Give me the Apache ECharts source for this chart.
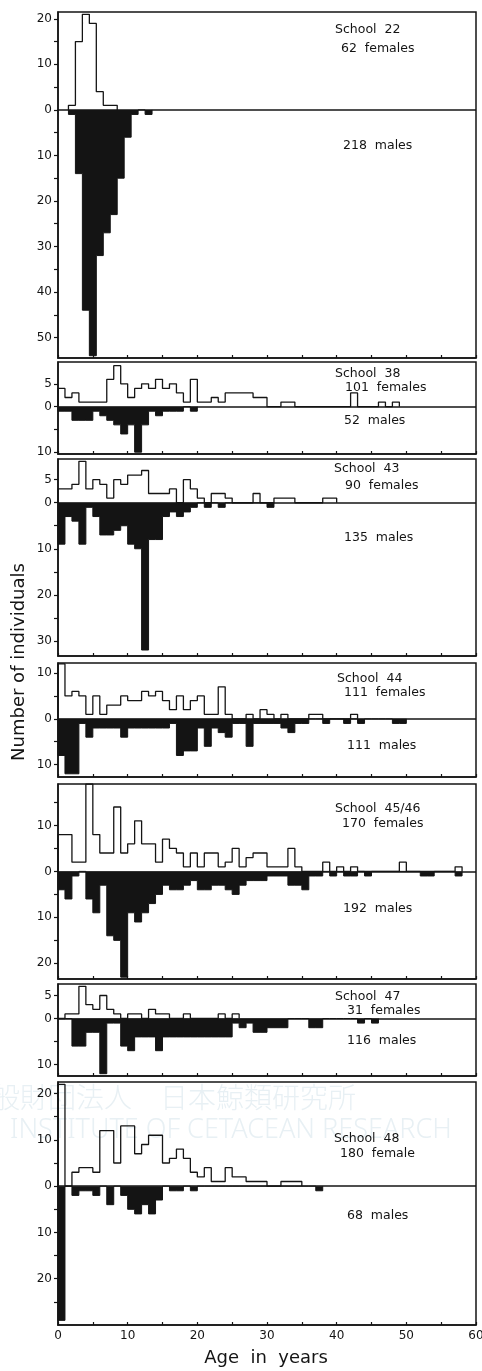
<!DOCTYPE html>
<html>
<head>
<meta charset="utf-8">
<title>Age composition of schools</title>
<script src="https://cdn.jsdelivr.net/npm/echarts@6.0.0/dist/echarts.min.js"></script>
<style>
  html, body { margin: 0; padding: 0; background: #fff; }
  #chart { width: 482px; height: 1371px; }
</style>
</head>
<body>
<div id="chart"></div>
<script>
// one-year age classes, counts listed from the first class of each school
const schoolNames = ['School  22', 'School  38', 'School  43', 'School  44', 'School  45/46', 'School  47', 'School  48']
const femaleLabels = ['62  females', '101  females', '90  females', '111  females', '170  females', '31  females', '180  female']
const maleLabels = ['218  males', '52  males', '135  males', '111  males', '192  males', '116  males', '68  males']
const firstAge = [1.5, 0, 0, 0, 0, 0, 0]

const females22 = [1, 15, 21, 19, 4, 1, 1]
const males22 = [1, 14, 44, 54, 32, 27, 23, 15, 6, 1, 0, 1]

const females38 = [4, 2, 3, 1, 1, 1, 1, 6, 9, 5, 2, 4, 5, 4, 6, 4, 5, 3, 1, 6, 1, 1, 2, 1, 3, 3, 3, 3, 2, 2, 0, 0, 1, 1, 0, 0, 0, 0, 0, 0, 0, 0, 3, 0, 0, 0, 1, 0, 1]
const males38 = [1, 1, 3, 3, 3, 1, 2, 3, 4, 6, 4, 10, 4, 1, 2, 1, 1, 1, 0, 1]

const females43 = [3, 3, 4, 9, 3, 5, 4, 1, 5, 4, 6, 6, 7, 2, 2, 2, 3, 0, 5, 3, 1, 0, 2, 2, 1, 0, 0, 0, 2, 0, 0, 1, 1, 1, 0, 0, 0, 0, 1, 1]
const males43 = [9, 3, 4, 9, 1, 3, 7, 7, 6, 5, 9, 10, 32, 8, 8, 3, 2, 3, 2, 1, 0, 1, 0, 1, 0, 0, 0, 0, 0, 0, 1]

const females44 = [12, 5, 6, 5, 1, 5, 1, 3, 3, 5, 4, 4, 6, 5, 6, 4, 2, 5, 2, 4, 5, 1, 1, 7, 1, 0, 0, 1, 0, 2, 1, 0, 1, 0, 0, 0, 1, 1, 0, 0, 0, 0, 1]
const males44 = [8, 12, 12, 1, 4, 2, 2, 2, 2, 4, 2, 2, 2, 2, 2, 2, 1, 8, 7, 7, 2, 6, 2, 3, 4, 1, 1, 6, 1, 1, 1, 1, 2, 3, 1, 1, 0, 0, 1, 0, 0, 1, 0, 1, 0, 0, 0, 0, 1, 1]

const females4546 = [8, 8, 2, 2, 19, 8, 4, 4, 14, 4, 6, 11, 6, 6, 2, 7, 5, 4, 1, 4, 1, 4, 4, 1, 2, 5, 1, 3, 4, 4, 1, 1, 1, 5, 1, 0, 0, 0, 2, 0, 1, 0, 1, 0, 0, 0, 0, 0, 0, 2, 0, 0, 0, 0, 0, 0, 0, 1]
const males4546 = [4, 6, 1, 0, 6, 9, 3, 14, 15, 23, 9, 11, 9, 7, 5, 3, 4, 4, 3, 2, 4, 4, 3, 3, 4, 5, 3, 2, 2, 2, 1, 1, 1, 3, 3, 4, 1, 1, 0, 1, 0, 1, 1, 0, 1, 0, 0, 0, 0, 0, 0, 0, 1, 1, 0, 0, 0, 1]

const females47 = [0, 1, 1, 7, 3, 2, 5, 2, 1, 0, 1, 1, 0, 2, 1, 1, 0, 0, 1, 0, 0, 0, 0, 1, 0, 1]
const males47 = [0, 0, 6, 6, 3, 3, 12, 1, 1, 6, 7, 4, 4, 4, 7, 4, 4, 4, 4, 4, 4, 4, 4, 4, 4, 1, 2, 1, 3, 3, 2, 2, 2, 0, 0, 0, 2, 2, 0, 0, 0, 0, 0, 1, 0, 1]

const females48 = [22, 0, 3, 4, 4, 3, 12, 12, 5, 13, 13, 7, 9, 11, 11, 5, 6, 8, 6, 3, 2, 4, 1, 1, 4, 2, 2, 1, 1, 1, 0, 0, 1, 1, 1]
const males48 = [29, 0, 2, 1, 1, 2, 0, 4, 0, 2, 5, 6, 4, 6, 3, 0, 1, 1, 0, 1, 0, 0, 0, 0, 0, 0, 0, 0, 0, 0, 0, 0, 0, 0, 0, 0, 0, 1]

const femaleCounts = [females22, females38, females43, females44, females4546, females47, females48]
const maleCounts = [males22, males38, males43, males44, males4546, males47, males48]

const ageTicks = [0, 5, 10, 15, 20, 25, 30, 35, 40, 45, 50, 55, 60]
const ageLabels = [0, 10, 20, 30, 40, 50, 60]

// panel layout (pixels) and value axes
const panelTop = [12, 362, 459, 663, 784, 984, 1082]
const panelBottom = [358, 454, 656, 777, 979, 1076, 1325]
const yMin = [-54.5, -10.4, -33.3, -12.7, -23.4, -12.5, -30]
const yMax = [21.5, 9.8, 9.5, 12.2, 19, 7.5, 22.5]
const yTicks = [
  [20, 15, 10, 5, 0, -5, -10, -15, -20, -25, -30, -35, -40, -45, -50],
  [5, 0, -5, -10],
  [5, 0, -5, -10, -15, -20, -25, -30],
  [10, 5, 0, -5, -10],
  [15, 10, 5, 0, -5, -10, -15, -20],
  [5, 0, -5, -10],
  [20, 15, 10, 5, 0, -5, -10, -15, -20, -25]
]
const yLabels = [
  [20, 10, 0, -10, -20, -30, -40, -50],
  [5, 0, -10],
  [5, 0, -10, -20, -30],
  [10, 0, -10],
  [10, 0, -10, -20],
  [5, 0, -10],
  [20, 10, 0, -10, -20]
]
// text anchor points: [schoolX, schoolY, femaleX, femaleY, maleX, maleY]
const textPos = [
  [335, 30, 341, 49, 343, 146],
  [335, 374, 345, 388, 344, 421],
  [334, 469, 345, 486, 344, 538],
  [337, 679, 344, 693, 347, 746],
  [335, 809, 342, 824, 343, 909],
  [335, 997, 347, 1011, 347, 1041],
  [334, 1139, 340, 1154, 347, 1216]
]

// faint scanner watermark of the source page
const markJa = '一般財団法人　日本鯨類研究所'
const markEn = 'INSTITUTE OF CETACEAN RESEARCH'

const ink = '#141414'
const H = 1371

function steps (start, counts, sign) {
  const pts = [[start, 0]]
  counts.forEach((c, i) => pts.push([start + i, sign * c]))
  pts.push([start + counts.length, 0])
  return pts
}

const grid = []
const xAxis = []
const yAxis = []
const series = []
const graphic = []

graphic.push({
  type: 'text', x: -36, y: 1097, z: -10, silent: true,
  style: {text: markJa, font: '300 28px "Noto Sans CJK JP"', fill: '#e8f0f4', verticalAlign: 'middle'}
})
graphic.push({
  type: 'text', x: 10, y: 1130, z: -10, silent: true,
  style: {text: markEn, font: '300 27px "Noto Sans"', fill: '#e8f0f4', verticalAlign: 'middle'}
})

for (let i = 0; i < 7; i++) {
  const last = i === 6
  grid.push({
    left: 58, right: 6, top: panelTop[i], bottom: H - panelBottom[i],
    containLabel: false, outerBoundsMode: 'none',
    show: true, borderColor: ink, borderWidth: 1.5, backgroundColor: 'transparent'
  })
  xAxis.push({
    type: 'value', gridIndex: i, min: 0, max: 60, interval: 5,
    axisLine: {show: true, onZero: false, lineStyle: {color: ink, width: 1.5}},
    axisTick: {show: true, inside: true, length: 3, customValues: ageTicks, lineStyle: {color: ink, width: 1.2}},
    axisLabel: {show: last, customValues: ageLabels, color: ink, fontSize: 12, fontFamily: 'DejaVu Sans', margin: 5},
    splitLine: {show: false}
  })
  yAxis.push({
    type: 'value', gridIndex: i, min: yMin[i], max: yMax[i],
    axisLine: {show: true, lineStyle: {color: ink, width: 1.5}},
    axisTick: {show: true, inside: false, length: 4, customValues: yTicks[i], lineStyle: {color: ink, width: 1.2}},
    axisLabel: {
      show: true, customValues: yLabels[i], color: ink, fontSize: 12, fontFamily: 'DejaVu Sans', margin: 6,
      formatter: v => String(Math.abs(v))
    },
    splitLine: {show: false}
  })
  series.push({
    name: 'males ' + i, type: 'line', xAxisIndex: i, yAxisIndex: i, step: 'end',
    data: steps(firstAge[i], maleCounts[i], -1),
    symbol: 'none', lineStyle: {color: ink, width: 1},
    areaStyle: {color: ink, opacity: 1}, z: 2
  })
  series.push({
    name: 'females ' + i, type: 'line', xAxisIndex: i, yAxisIndex: i, step: 'end',
    data: steps(firstAge[i], femaleCounts[i], 1),
    symbol: 'none', lineStyle: {color: ink, width: 1.3}, z: 3,
    markLine: {
      silent: true, symbol: 'none', label: {show: false},
      lineStyle: {color: ink, width: 1.6, type: 'solid'},
      data: [{yAxis: 0}]
    }
  })
  const p = textPos[i]
  const font = '12.5px "DejaVu Sans"'
  graphic.push({type: 'text', x: p[0], y: p[1], style: {text: schoolNames[i], font, fill: ink, verticalAlign: 'middle'}})
  graphic.push({type: 'text', x: p[2], y: p[3], style: {text: femaleLabels[i], font, fill: ink, verticalAlign: 'middle'}})
  graphic.push({type: 'text', x: p[4], y: p[5], style: {text: maleLabels[i], font, fill: ink, verticalAlign: 'middle'}})
}

graphic.push({
  type: 'text', x: 19, y: 662, rotation: Math.PI / 2,
  style: {text: 'Number of individuals', font: '18px "DejaVu Sans"', fill: ink, align: 'center', verticalAlign: 'middle'}
})
graphic.push({
  type: 'text', x: 266, y: 1358,
  style: {text: 'Age  in  years', font: '18px "DejaVu Sans"', fill: ink, align: 'center', verticalAlign: 'middle'}
})

const myChart = echarts.init(document.getElementById('chart'), null, {renderer: 'canvas'})
myChart.setOption({
  animation: false,
  backgroundColor: '#fff',
  grid, xAxis, yAxis, series, graphic
})
</script>
</body>
</html>
